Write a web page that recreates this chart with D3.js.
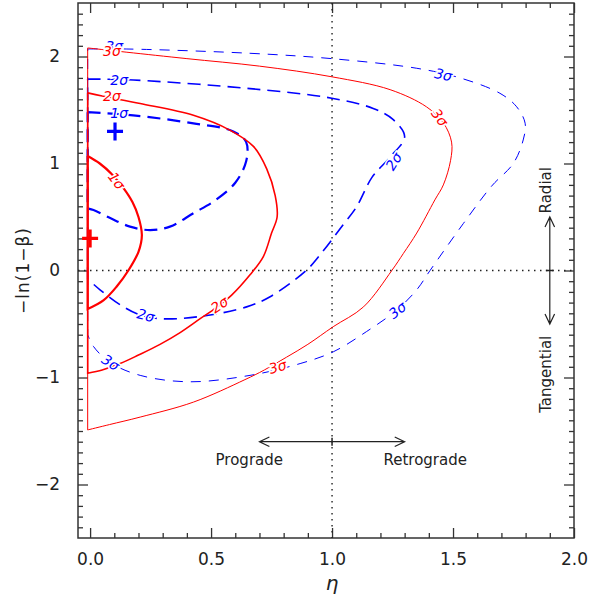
<!DOCTYPE html>
<html>
<head>
<meta charset="utf-8">
<script src="https://cdn.jsdelivr.net/npm/d3@7"></script>
<style>
  body { margin: 0; background: #fff; }
  text { font-family: "DejaVu Sans", sans-serif; }
</style>
</head>
<body>
<script>
// contour lines, [eta, -ln(1-beta)]
let red1 = [[-0.01,1.07],[0.04,1.0],[0.09,0.9],[0.138,0.77],[0.175,0.64],[0.2,0.5],[0.214,0.33],[0.2,0.175],[0.158,0],[0.11,-0.15],[0.055,-0.28],[-0.01,-0.36]]
let red2 = [[-0.01,1.66],[0.05,1.63],[0.207,1.56],[0.427,1.45],[0.579,1.31],[0.675,1.16],[0.73,0.95],[0.765,0.7],[0.773,0.5],[0.75,0.35],[0.716,0.13],[0.661,-0.04],[0.585,-0.23],[0.52,-0.35],[0.455,-0.45],[0.372,-0.58],[0.289,-0.69],[0.2,-0.79],[0.124,-0.87],[0.05,-0.93],[-0.01,-0.96]]
let red3 = [[-0.01,2.08],[0.152,2.04],[0.4,1.98],[0.7,1.91],[1.0,1.81],[1.24,1.69],[1.39,1.53],[1.46,1.38],[1.494,1.2],[1.49,1.03],[1.46,0.8],[1.425,0.66],[1.35,0.35],[1.295,0.16],[1.247,0],[1.13,-0.34],[1.005,-0.525],[0.9,-0.69],[0.812,-0.81],[0.72,-0.93],[0.64,-1.02],[0.427,-1.23],[0.207,-1.37],[0.08,-1.44],[-0.01,-1.49]]
let blue1 = [[-0.01,1.48],[0.178,1.45],[0.427,1.375],[0.592,1.30],[0.645,1.2],[0.645,1.02],[0.6,0.82],[0.52,0.66],[0.427,0.535],[0.33,0.41],[0.248,0.378],[0.165,0.41],[0.083,0.49],[0.014,0.565],[-0.01,0.58]]
let blue2 = [[-0.01,1.79],[0.179,1.78],[0.661,1.70],[0.999,1.61],[1.17,1.515],[1.253,1.41],[1.3,1.25],[1.24,1.06],[1.165,0.87],[1.1,0.59],[1.045,0.425],[0.95,0.145],[0.893,0],[0.744,-0.245],[0.647,-0.34],[0.455,-0.43],[0.289,-0.45],[0.2,-0.41],[0.124,-0.32],[0.041,-0.18],[-0.01,-0.08]]
let blue3 = [[-0.01,2.07],[0.152,2.07],[0.661,2.03],[0.999,1.98],[1.35,1.89],[1.529,1.80],[1.694,1.656],[1.763,1.53],[1.798,1.376],[1.79,1.22],[1.749,1.0],[1.66,0.79],[1.543,0.44],[1.405,0],[1.35,-0.18],[1.267,-0.37],[1.143,-0.57],[1.005,-0.76],[0.868,-0.87],[0.661,-0.98],[0.41,-1.04],[0.207,-0.98],[0.083,-0.86],[0.014,-0.71],[-0.01,-0.6]]

// contour labels: [text, eta, y, angle]
let redLabels = [["3σ",0.09,2.05,0],["2σ",0.09,1.63,0],["1σ",0.11,0.84,52],["2σ",0.535,-0.32,-34],["3σ",0.775,-0.9,-16],["3σ",1.445,1.43,52]]
let blueLabels = [["3σ",0.1,2.1,0],["2σ",0.12,1.78,0],["1σ",0.12,1.47,0],["2σ",1.255,1.02,-58],["3σ",1.46,1.83,12],["3σ",1.27,-0.37,-38],["2σ",0.23,-0.42,14],["3σ",0.085,-0.86,32]]

// best-fit points
let redBest = [0.0, 0.30]
let blueBest = [0.103, 1.30]

let xMajor = [0, 0.5, 1.0, 1.5, 2.0]
let yMajor = [-2, -1, 0, 1, 2]

let W = 603, H = 599
let pl = 78, pr = 574, pt = 3, pb = 538

let svg = d3.select("body")
    .append("svg")
    .attr("width", W)
    .attr("height", H)

let xs = d3.scaleLinear().domain([-0.05, 2.0]).range([pl, pr])
let ys = d3.scaleLinear().domain([-2.5, 2.5]).range([pb, pt])

let xMinor = d3.range(0, 2.0001, 0.1).map(d => +d.toFixed(1)).filter(d => xMajor.indexOf(d) < 0)
let yMinor = d3.range(-2.4, 2.4001, 0.1).map(d => +d.toFixed(1)).filter(d => yMajor.indexOf(d) < 0)

let axisColor = "#333"

// axes, ticks drawn inward on all four sides
function drawAxis(axis, tx, ty, vals, size, labels){
    let g = svg.append("g")
        .attr("transform", `translate(${tx},${ty})`)
        .call(axis.tickValues(vals).tickSize(size).tickSizeOuter(0))
    g.select(".domain").remove()
    g.selectAll(".tick line").attr("stroke", axisColor).attr("stroke-width", 1.3)
    if (!labels) g.selectAll(".tick text").remove()
    return g
}

let bx = drawAxis(d3.axisBottom(xs).tickFormat(d3.format(".1f")).tickPadding(15), 0, pb, xMajor, -10, true)
bx.selectAll(".tick text").attr("font-size", 17).attr("fill", "#222").attr("font-family", "DejaVu Sans")
drawAxis(d3.axisBottom(xs), 0, pb, xMinor, -5, false)
drawAxis(d3.axisTop(xs), 0, pt, xMajor, -10, false)
drawAxis(d3.axisTop(xs), 0, pt, xMinor, -5, false)

let ly = drawAxis(d3.axisLeft(ys).tickFormat(d => d < 0 ? "−" + Math.abs(d) : d).tickPadding(18), pl, 0, yMajor, -10, true)
ly.selectAll(".tick text").attr("font-size", 17).attr("fill", "#222").attr("font-family", "DejaVu Sans")
drawAxis(d3.axisLeft(ys), pl, 0, yMinor, -5, false)
drawAxis(d3.axisRight(ys), pr, 0, yMajor, -10, false)
drawAxis(d3.axisRight(ys), pr, 0, yMinor, -5, false)

svg.append("rect")
    .attr("x", pl).attr("y", pt)
    .attr("width", pr - pl).attr("height", pb - pt)
    .attr("fill", "none").attr("stroke", axisColor).attr("stroke-width", 1.5)

// dotted reference lines
svg.append("line")
    .attr("x1", pl).attr("x2", pr).attr("y1", ys(0)).attr("y2", ys(0))
    .attr("stroke", "#222").attr("stroke-width", 1.4).attr("stroke-dasharray", "1.5,4.5")
svg.append("line")
    .attr("x1", xs(1)).attr("x2", xs(1)).attr("y1", pt).attr("y2", pb)
    .attr("stroke", "#222").attr("stroke-width", 1.4).attr("stroke-dasharray", "1.5,4.5")

let line = d3.line()
    .x(d => xs(d[0]))
    .y(d => ys(d[1]))
    .curve(d3.curveCatmullRom.alpha(0.5))

function contour(pts, color, width, dash){
    let first = pts[0]
    svg.append("path")
        .attr("d", line(pts) + "L" + xs(first[0]) + "," + ys(first[1]))
        .attr("fill", "none")
        .attr("stroke", color)
        .attr("stroke-width", width)
        .attr("stroke-dasharray", dash)
}

contour(blue3, "#0000ff", 1, "10,8")
contour(blue2, "#0000ff", 1.6, "13,7")
contour(blue1, "#0000ff", 2.2, "13,7")
contour(red3, "#ff0000", 1, null)
contour(red2, "#ff0000", 1.6, null)
contour(red1, "#ff0000", 2.2, null)

function labels(list, color){
    svg.selectAll(null)
        .data(list)
        .enter()
        .append("text")
        .attr("transform", d => `translate(${xs(d[1])},${ys(d[2])}) rotate(${d[3]})`)
        .attr("text-anchor", "middle")
        .attr("dy", "0.35em")
        .attr("font-size", 14)
        .attr("font-style", "italic")
        .attr("fill", color)
        .attr("stroke", "#fff")
        .attr("stroke-width", 3)
        .attr("paint-order", "stroke")
        .text(d => d[0])
}
labels(blueLabels, "#0000ff")
labels(redLabels, "#ff0000")

function plus(p, color){
    let cx = xs(p[0]), cy = ys(p[1])
    svg.append("path")
        .attr("d", `M${cx - 8},${cy}H${cx + 8}M${cx},${cy - 9}V${cy + 9}`)
        .attr("stroke", color)
        .attr("stroke-width", 3.2)
        .attr("fill", "none")
}
plus(blueBest, "#0000ff")
plus(redBest, "#ff0000")

// direction arrows
let ink = "#222"
function arrow(x1, y1, x2, y2){
    let a1 = xs(x1), b1 = ys(y1), a2 = xs(x2), b2 = ys(y2)
    let p = d3.path()
    p.moveTo(a1, b1); p.lineTo(a2, b2)
    let ang = Math.atan2(b2 - b1, a2 - a1)
    ;[[a1, b1, ang], [a2, b2, ang + Math.PI]].forEach(([x, y, t]) => {
        p.moveTo(x + 11 * Math.cos(t - 0.45), y + 11 * Math.sin(t - 0.45))
        p.lineTo(x, y)
        p.lineTo(x + 11 * Math.cos(t + 0.45), y + 11 * Math.sin(t + 0.45))
    })
    svg.append("path").attr("d", p.toString())
        .attr("stroke", ink).attr("stroke-width", 1.2).attr("fill", "none")
}
arrow(0.70, -1.6, 1.30, -1.6)
arrow(1.90, 0.5, 1.90, -0.5)
svg.append("line").attr("x1", xs(1)).attr("x2", xs(1)).attr("y1", ys(-1.6) - 4).attr("y2", ys(-1.6) + 4)
    .attr("stroke", ink).attr("stroke-width", 1.5)
svg.append("line").attr("x1", xs(1.9) - 4).attr("x2", xs(1.9) + 4).attr("y1", ys(0)).attr("y2", ys(0))
    .attr("stroke", ink).attr("stroke-width", 1.5)

svg.append("text").attr("x", xs(0.658)).attr("y", ys(-1.77)).attr("dy", "0.35em")
    .attr("text-anchor", "middle").attr("font-size", 15).attr("fill", ink).text("Prograde")
svg.append("text").attr("x", xs(1.385)).attr("y", ys(-1.77)).attr("dy", "0.35em")
    .attr("text-anchor", "middle").attr("font-size", 15).attr("fill", ink).text("Retrograde")
svg.append("text").attr("transform", `translate(${xs(1.9) - 4},${ys(0.75)}) rotate(-90)`).attr("dy", "0.35em")
    .attr("text-anchor", "middle").attr("font-size", 15).attr("fill", ink).text("Radial")
svg.append("text").attr("transform", `translate(${xs(1.9) - 4},${ys(-0.97)}) rotate(-90)`).attr("dy", "0.35em")
    .attr("text-anchor", "middle").attr("font-size", 15).attr("fill", ink).text("Tangential")

// axis titles
svg.append("text").attr("x", xs(1)).attr("y", 583).attr("dy", "0.35em")
    .attr("text-anchor", "middle").attr("font-size", 20).attr("font-style", "italic")
    .attr("font-family", "DejaVu Serif").attr("fill", "#222").text("η")
svg.append("text").attr("transform", `translate(23,${ys(0)}) rotate(-90)`).attr("dy", "0.35em")
    .attr("text-anchor", "middle").attr("font-size", 17).attr("letter-spacing", 1)
    .attr("fill", "#222").text("−ln(1−β)")
</script>
</body>
</html>
